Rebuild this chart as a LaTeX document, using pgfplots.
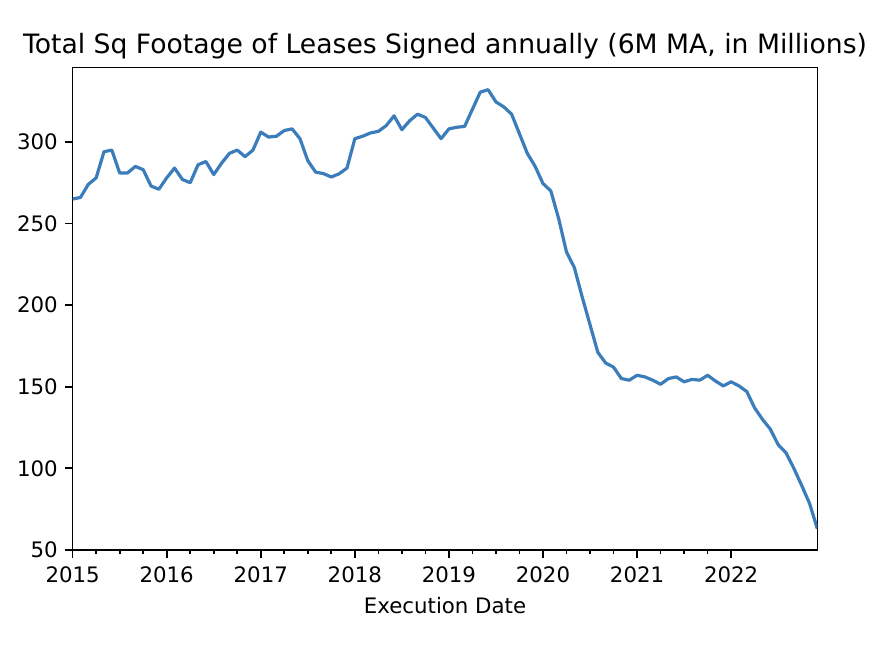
\documentclass[border=0pt]{standalone}
\usepackage{pgfplots}
\pgfplotsset{compat=1.18}
\usepackage{pgfplotstable}
\usepackage{fontspec}
\setmainfont{DejaVu Sans}
\definecolor{mplblue}{HTML}{3A7DBA}
\pgfplotstableread{
i v
0 265
1 266
2 274
3 278
4 294
5 295
6 281
7 281
8 285
9 283
10 273
11 271
12 278
13 284
14 277
15 275
16 286
17 288
18 280
19 287
20 293
21 295
22 291
23 295
24 306
25 303
26 303.5
27 307
28 308
29 302
30 288.5
31 281.5
32 280.6
33 278.5
34 280.5
35 284
36 302
37 303.5
38 305.5
39 306.5
40 310
41 316
42 307.5
43 313
44 317
45 315
46 308.5
47 302
48 308
49 309
50 309.5
51 320
52 330.5
53 332
54 324.5
55 321.5
56 317
57 305
58 293
59 285
60 274.5
61 270
62 253
63 232.5
64 223
65 205
66 188
67 171
68 164.5
69 162
70 155
71 154
72 157
73 156
74 154
75 151.5
76 155
77 156
78 153
79 154.5
80 154
81 157
82 153.5
83 150.5
84 153
85 150.5
86 147
87 137
88 130
89 124
90 114.5
91 109.5
92 100
93 89.5
94 78.5
95 63
}\leasedata
\begin{document}
\begin{tikzpicture}
\useasboundingbox (0,0) rectangle (413.1pt,305.2pt);
\begin{axis}[
  at={(34.1pt,46.9pt)}, anchor=south west,
  scale only axis,
  width=349.6pt, height=226.6pt,
  xmin=2015, xmax=2022.9167,
  ymin=49.8, ymax=345.6,
  xtick={2015,2016,2017,2018,2019,2020,2021,2022},
  minor x tick num=3,
  ytick={50,100,150,200,250,300},
  tick align=outside,
  xtick pos=bottom, ytick pos=left,
  major tick length=3.5pt, minor tick length=2pt,
  every tick/.style={black, line width=0.8pt},
  axis line style={black, line width=0.8pt},
  /pgf/number format/assume math mode=true,
  /pgf/number format/1000 sep={},
  tick label style={font=\fontsize{10}{12}\selectfont},
  xticklabel style={yshift=-0.5pt},
  title={Total Sq Footage of Leases Signed annually (6M MA, in Millions)},
  every axis title/.style={font=\fontsize{12.5}{14}\selectfont, at={(axis description cs:0.5,1)}, anchor=base, yshift=6.6pt, inner sep=0pt},
  xlabel={Execution Date},
  xlabel style={font=\fontsize{10}{12}\selectfont, at={(axis description cs:0.5,0)}, anchor=base, yshift=-29.6pt, inner sep=0pt},
]
\addplot[mplblue, line width=1.5pt, line join=round] table[x expr=2015+\thisrow{i}/12, y=v] {\leasedata};
\end{axis}
\end{tikzpicture}
\end{document}
